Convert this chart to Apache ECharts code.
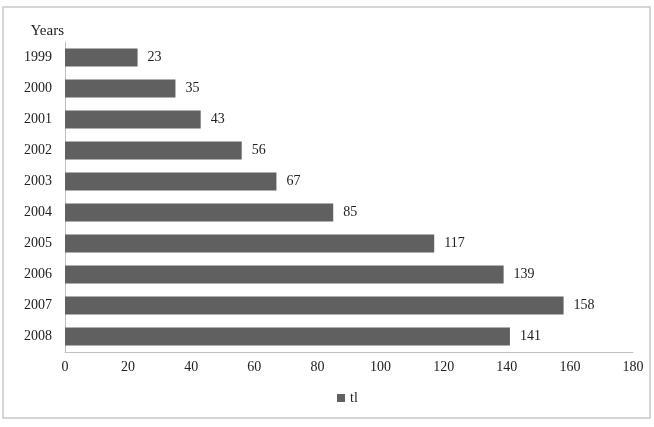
<!DOCTYPE html>
<html>
<head>
<meta charset="utf-8">
<script src="https://cdn.jsdelivr.net/npm/echarts@6/dist/echarts.min.js"></script>
<style>
html,body{margin:0;padding:0;background:#fff;}
#top{width:654px;height:427px;}
</style>
</head>
<body>
<div id="top"></div>
<script>
var years = ['1999','2000','2001','2002','2003','2004','2005','2006','2007','2008'];
var tl = [23,35,43,56,67,85,117,139,158,141];
var xTicks = [0,180,20];

var myChart = echarts.init(document.getElementById('top'));
var font = 'Liberation Serif, Times New Roman, serif';
var option = {
	animation:false,
	textStyle:{fontFamily:font},
	graphic:[{
		type:'rect',
		shape:{x:3,y:7,width:647,height:411},
		style:{fill:'none',stroke:'#c8c8c8',lineWidth:1.5},
		silent:true
	}],
	legend:{
		data:['tl'],
		bottom:17,
		left:332,
		itemWidth:8,
		itemHeight:8,
		itemGap:3,
		icon:'rect',
		textStyle:{fontFamily:font,fontSize:14,color:'#222'}
	},
	grid:{
		left:65,
		right:21,
		top:42,
		bottom:75,
		containLabel:false
	},
	xAxis:{
		type:'value',
		min:xTicks[0],
		max:xTicks[1],
		interval:xTicks[2],
		splitLine:{show:false},
		axisLine:{show:true,lineStyle:{color:'#c0c0c0',width:1}},
		axisTick:{show:false},
		axisLabel:{fontFamily:font,fontSize:14,color:'#222',margin:8}
	},
	yAxis:{
		type:'category',
		inverse:true,
		data:years,
		name:'Years',
		nameLocation:'start',
		nameGap:3,
		nameTextStyle:{fontFamily:font,fontSize:15,color:'#222',align:'right',padding:[0,1,0,0]},
		axisLine:{show:true,lineStyle:{color:'#c0c0c0',width:1}},
		axisTick:{show:false},
		axisLabel:{fontFamily:font,fontSize:14,color:'#222',margin:13}
	},
	series:[{
		name:'tl',
		type:'bar',
		data:tl,
		barWidth:18,
		itemStyle:{color:'#606060'},
		label:{show:true,position:'right',distance:10,fontFamily:font,fontSize:14,color:'#222'}
	}]
};
myChart.setOption(option,true);
</script>
</body>
</html>
